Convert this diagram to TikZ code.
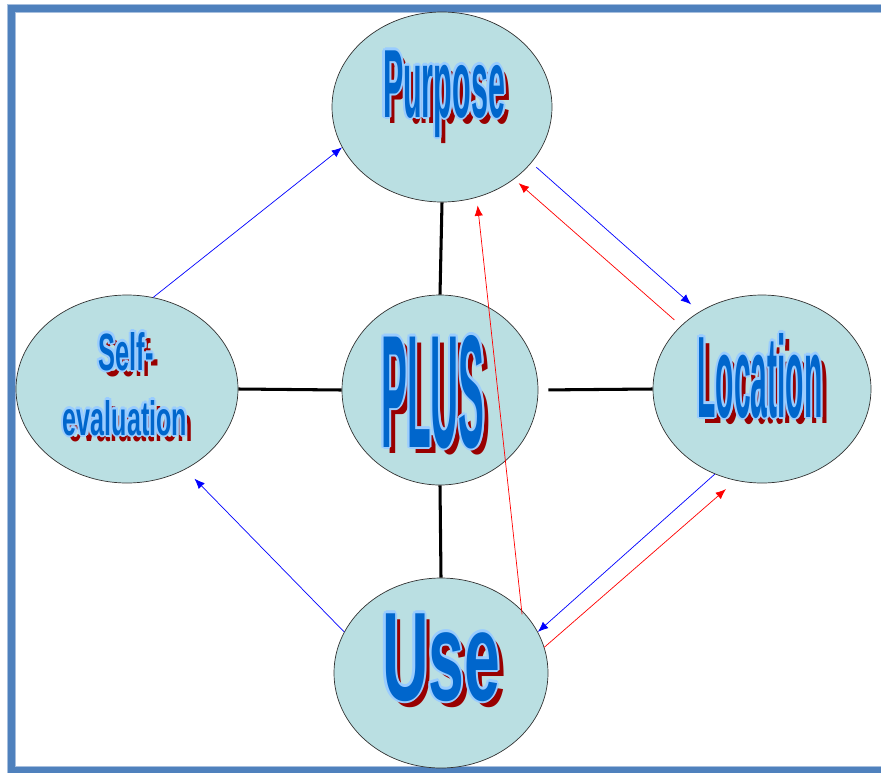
\documentclass[tikz,border=0pt]{standalone}
\usepackage{fontspec}
\usepackage{graphicx}
\usetikzlibrary{shapes.geometric,arrows.meta}
\newfontfamily\artfont{Liberation Sans}
\definecolor{artblue}{HTML}{0066CC}
\definecolor{artglow}{HTML}{99CCFF}
\definecolor{artshadow}{HTML}{990000}
\definecolor{bubblefill}{HTML}{BADFE2}
\definecolor{framecol}{HTML}{4F81BD}
\definecolor{framelight}{HTML}{A7BFDE}
\newcommand{\artword}[3]{%
  \def\artbox{\resizebox{#1}{#2}{\artfont\bfseries #3}}%
  \makebox[0pt][l]{\kern5pt\raisebox{-5.5pt}{\color{artshadow}\artbox}}%
  \makebox[0pt][l]{\kern-1.8pt\color{artglow}\artbox}%
  \makebox[0pt][l]{\kern1.8pt\color{artglow}\artbox}%
  \makebox[0pt][l]{\raisebox{1.8pt}{\color{artglow}\artbox}}%
  \makebox[0pt][l]{\raisebox{-1.8pt}{\color{artglow}\artbox}}%
  \makebox[0pt][l]{\kern-1.3pt\raisebox{1.3pt}{\color{artglow}\artbox}}%
  \makebox[0pt][l]{\kern1.3pt\raisebox{1.3pt}{\color{artglow}\artbox}}%
  \makebox[0pt][l]{\kern-1.3pt\raisebox{-1.3pt}{\color{artglow}\artbox}}%
  \makebox[0pt][l]{\kern1.3pt\raisebox{-1.3pt}{\color{artglow}\artbox}}%
  {\color{artblue}\artbox}}

\begin{document}
\begin{tikzpicture}[x=0.3mm,y=-0.3mm,>={Latex[length=3.1mm,width=2.5mm]}]
	\tikzstyle{bubble}=[draw=black!80,line width=0.6pt,fill=bubblefill,shape=ellipse,inner sep=0pt]
	\tikzstyle{word}=[inner sep=0pt,anchor=base]
	\tikzstyle{spoke}=[line width=2.6pt]
	\tikzstyle{blueflow}=[->,blue,line width=0.6pt]
	\tikzstyle{redflow}=[->,red,line width=0.6pt]
	
	\clip (0,0) rectangle (881,772);
	\draw[framelight,line width=2.7mm] (11,8.5) rectangle (900,770);
	\draw[framecol,line width=2.1mm] (11,8.5) rectangle (900,770);
	
	\node[bubble,minimum width=66mm,minimum height=57mm](purpose) at (442,107){};
	\node[bubble,minimum width=58.8mm,minimum height=57mm](plus) at (440,390){};
	\node[bubble,minimum width=66.6mm,minimum height=56.4mm](self) at (127,389){};
	\node[bubble,minimum width=65.4mm,minimum height=56.4mm](location) at (762,389){};
	\node[bubble,minimum width=64.2mm,minimum height=57mm](use) at (441,673){};
	
	\draw[spoke] (purpose.south) -- (plus.north);
	\draw[spoke] (plus.south) -- (use.north);
	\draw[spoke] (self.east) -- (plus.west);
	\draw[spoke,shorten <=3mm] (plus.east) -- (location.west);
	
	\draw[blueflow] (self.74) -- (purpose.202);
	\draw[blueflow,shorten <=2mm,shorten >=3.3mm] (purpose.328) -- (location.129);
	\draw[redflow,shorten <=2.6mm,shorten >=1.8mm] (location.142) -- (purpose.315);
	\draw[redflow,shorten <=-1.3mm,shorten >=2.4mm] (use.38) -- (purpose.291);
	\draw[blueflow] (location.241) -- (use.23);
	\draw[redflow,shorten >=3.9mm] (use.14) -- (location.254);
	\draw[blueflow,shorten >=3.9mm] (use.157) -- (self.306);
	
	\node[word](purposeTxt) at (444,117){\artword{36.6mm}{20mm}{Purpose}};
	\node[word](plusTxt) at (433,447){\artword{31mm}{33.6mm}{PLUS}};
	\node[word](selfTxt) at (126,370){\artword{16.5mm}{11.4mm}{Self-}};
	\node[word](evalTxt) at (125,435){\artword{37.2mm}{10.5mm}{evaluation}};
	\node[word](locationTxt) at (760,417){\artword{37.5mm}{25.2mm}{Location}};
	\node[word](useTxt) at (441,700){\artword{35.4mm}{26mm}{Use}};
	
\end{tikzpicture}
\end{document}
